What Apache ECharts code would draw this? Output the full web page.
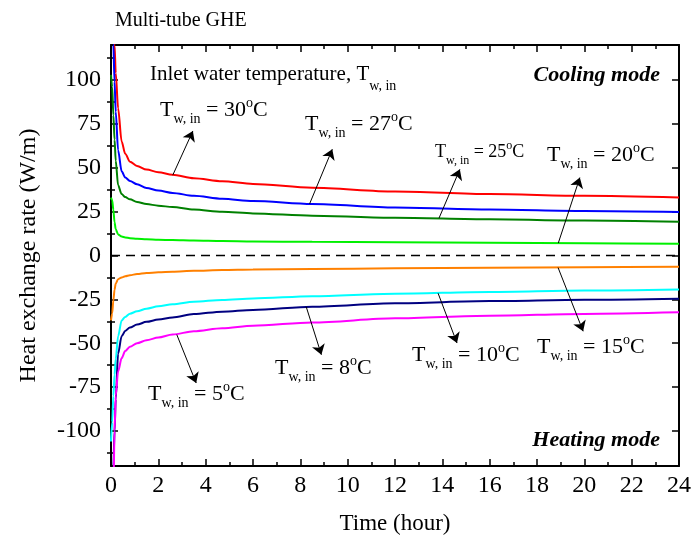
<!DOCTYPE html>
<html><head><meta charset="utf-8">
<script src="https://cdn.jsdelivr.net/npm/echarts@6/dist/echarts.min.js"></script>
<style>html,body{margin:0;padding:0;background:#fff}#c{width:696px;height:544px}</style>
</head><body><div id="c"></div>
<script>
// ---- data ----
const times = [0, 0.05, 0.1, 0.15, 0.2, 0.3, 0.45, 0.6, 0.8, 1.1, 1.5, 2, 2.6, 3.5, 4.7, 6, 8.5, 12, 16, 20, 24];
const tw30 = [260,195,150,120,104,84,65,58,53.5,51,49,47.5,46,44,42.3,40.8,38.6,36.5,35,34,33];
const tw27 = [220,160,120,99,82,60,48,44.5,42.5,40.6,38.5,37,35.7,34,32.3,31,29.3,27.3,26.2,25.4,24.8];
const tw25 = [103,96,80,66,54,40,35,33.3,32,30.5,29.3,28.4,27.6,26.2,24.9,24,22.7,21.5,20.6,19.9,19.2];
const tw20 = [33,31.5,26,19,15,12,10.8,10.3,9.9,9.5,9.2,9,8.8,8.5,8.2,8,7.8,7.6,7.3,7,6.7];
const tw15 = [-37,-33,-25.5,-19.5,-16,-13.5,-12.5,-11.8,-11.2,-10.6,-10,-9.6,-9.2,-8.7,-8.3,-8,-7.7,-7.3,-7,-6.7,-6.4];
const tw10 = [-106,-95,-80,-68,-59,-46,-37,-35,-33.2,-31.8,-30.3,-29,-27.8,-26.3,-25.3,-24.5,-23.2,-21.8,-20.8,-20,-19.4];
const tw8  = [-170,-145,-120,-100,-82,-56,-46,-43,-41,-39.4,-37.8,-36.5,-35.3,-33.4,-32,-31,-29.2,-27.2,-26,-25.2,-24.6];
const tw5  = [-220,-175,-135,-100,-80,-66,-58.5,-54.5,-52,-50,-48.3,-46.7,-45,-43.2,-41.5,-40,-38.2,-35.8,-34.3,-33.3,-32.4];
const tempLabels = ['30','27','25','20','15','10','8','5'];
const yLabelValues = [-100,-75,-50,-25,0,25,50,75,100];
const yMinorValues = [-112.5,-87.5,-62.5,-37.5,-12.5,12.5,37.5,62.5,87.5,112.5];
// arrow annotations in data units: [tFrom, vFrom, tTo, vTo]
const arrows = [
  [2.61,45.8,3.46,71],
  [8.39,29.4,9.35,60.6],
  [13.86,21.3,14.74,49.1],
  [18.9,7.1,19.81,44.4],
  [18.89,-6.9,19.95,-43.2],
  [13.82,-21.5,14.62,-49.9],
  [8.25,-29.3,8.89,-56.6],
  [2.78,-45.1,3.6,-72.7]
];

// ---- rendering ----
const FONT = '"Liberation Serif", "Times New Roman", serif';
const seriesVals = [tw30, tw27, tw25, tw20, tw15, tw10, tw8, tw5];
const colors = ['#ff0000','#0000ff','#008000','#00f000','#ff8000','#00ffff','#000080','#ff00ff'];

const series = seriesVals.map((vals, i) => ({
  type: 'line',
  name: 'Tw,in = ' + tempLabels[i] + '°C',
  data: times.map((t, k) => [t, vals[k]]),
  showSymbol: false, symbol: 'none',
  smooth: 0.3, smoothMonotone: 'x',
  clip: true, silent: true, animation: false,
  lineStyle: { color: colors[i], width: 2 },
  itemStyle: { color: colors[i] },
  z: 3,
  markLine: {
    silent: true, animation: false,
    symbol: ['none', 'arrow'], symbolSize: 10,
    lineStyle: { color: '#000', width: 1, type: 'solid' },
    label: { show: false },
    data: [[{ coord: [arrows[i][0], arrows[i][1]] }, { coord: [arrows[i][2], arrows[i][3]] }]]
  }
}));
series.push({
  type: 'line', data: [[0, 0], [24, 0]], showSymbol: false, symbol: 'none', silent: true, animation: false,
  lineStyle: { color: '#000', width: 1.5, type: [9, 6] }, z: 2
});

const PAD = 3;
function richFor(F, s, p) {
  return {
    m: { fontSize: F, lineHeight: F, fontFamily: FONT, color: '#000', verticalAlign: 'top', padding: [PAD, 0, 0, 0] },
    s: { fontSize: s, lineHeight: s, fontFamily: FONT, color: '#000', verticalAlign: 'top', padding: [p + PAD, 0, 0, 0] },
    o: { fontSize: s, lineHeight: s, fontFamily: FONT, color: '#000', verticalAlign: 'top' }
  };
}
function twLabel(val) { return '{m|T}{s|w, in}{m| = ' + val + '}{o|o}{m|C}'; }
function annot(x, yc, val, F, s) {
  const p = Math.round(F / 2 - s / 2 + 9);
  return { type: 'text', x: x, y: yc - F / 2 - PAD, silent: true, z: 10,
    style: { text: twLabel(val), rich: richFor(F, s, p), textVerticalAlign: 'top', textAlign: 'left' } };
}

const graphics = [
  { type: 'text', x: 150, y: 74 - 10.5 - PAD, silent: true, z: 10,
    style: { text: '{m|Inlet water temperature, T}{s|w, in}', rich: richFor(21, 14, 16), textVerticalAlign: 'top' } },
  annot(160, 110, tempLabels[0], 22, 14),
  annot(305, 124, tempLabels[1], 22, 14),
  annot(435, 152, tempLabels[2], 18, 12),
  annot(547, 155, tempLabels[3], 22, 14),
  annot(537, 347, tempLabels[4], 22, 14),
  annot(412, 355, tempLabels[5], 22, 14),
  annot(275, 368, tempLabels[6], 22, 14),
  annot(148, 394, tempLabels[7], 22, 14),
  { type: 'text', x: 660, y: 75, silent: true, z: 10,
    style: { text: 'Cooling mode', textAlign: 'right', textVerticalAlign: 'middle', fill: '#000',
      fontFamily: FONT, fontSize: 22, fontWeight: 'bold', fontStyle: 'italic' } },
  { type: 'text', x: 660, y: 440, silent: true, z: 10,
    style: { text: 'Heating mode', textAlign: 'right', textVerticalAlign: 'middle', fill: '#000',
      fontFamily: FONT, fontSize: 22, fontWeight: 'bold', fontStyle: 'italic' } }
];

const axLine = { show: true, onZero: false, lineStyle: { color: '#000', width: 2 } };
const chart = echarts.init(document.getElementById('c'), null, { renderer: 'canvas' });
chart.setOption({
  animation: false,
  backgroundColor: '#fff',
  title: { text: 'Multi-tube GHE', left: 110, top: 6,
    textStyle: { fontFamily: FONT, fontSize: 20, fontWeight: 'normal', color: '#000' } },
  grid: { left: 111, right: 17, top: 45, bottom: 78, containLabel: false, outerBoundsMode: 'none' },
  xAxis: [
    { type: 'value', position: 'bottom', min: 0, max: 24, interval: 2,
      name: 'Time (hour)', nameLocation: 'middle', nameGap: 46,
      nameTextStyle: { fontFamily: FONT, fontSize: 23, color: '#000' },
      axisLine: axLine,
      axisTick: { show: true, inside: true, length: 7, lineStyle: { color: '#000', width: 1.5 } },
      minorTick: { show: true, splitNumber: 2, length: 4, lineStyle: { color: '#000', width: 1.5 } },
      axisLabel: { fontFamily: FONT, fontSize: 24, color: '#000', margin: 8 },
      splitLine: { show: false }, minorSplitLine: { show: false } },
    { type: 'value', position: 'top', min: 0, max: 24, interval: 2,
      axisLine: axLine,
      axisTick: { show: true, inside: true, length: 7, lineStyle: { color: '#000', width: 1.5 } },
      minorTick: { show: true, splitNumber: 2, length: 4, lineStyle: { color: '#000', width: 1.5 } },
      axisLabel: { show: false }, splitLine: { show: false } }
  ],
  yAxis: [
    { type: 'value', position: 'left', min: -120, max: 120,
      name: 'Heat exchange rate (W/m)', nameLocation: 'middle', nameGap: 70,
      nameTextStyle: { fontFamily: FONT, fontSize: 24, color: '#000' },
      axisLine: axLine,
      axisTick: { show: true, inside: true, length: 7, customValues: yLabelValues, lineStyle: { color: '#000', width: 1.5 } },
      axisLabel: { fontFamily: FONT, fontSize: 24, color: '#000', margin: 10, customValues: yLabelValues },
      splitLine: { show: false } },
    { type: 'value', position: 'right', min: -120, max: 120,
      axisLine: axLine,
      axisTick: { show: true, inside: true, length: 7, customValues: yLabelValues, lineStyle: { color: '#000', width: 1.5 } },
      axisLabel: { show: false }, splitLine: { show: false } },
    { type: 'value', position: 'left', min: -120, max: 120,
      axisLine: { show: false },
      axisTick: { show: true, inside: true, length: 4, customValues: yMinorValues, lineStyle: { color: '#000', width: 1.5 } },
      axisLabel: { show: false }, splitLine: { show: false } },
    { type: 'value', position: 'right', min: -120, max: 120,
      axisLine: { show: false },
      axisTick: { show: true, inside: true, length: 4, customValues: yMinorValues, lineStyle: { color: '#000', width: 1.5 } },
      axisLabel: { show: false }, splitLine: { show: false } }
  ],
  series: series,
  graphic: graphics
});
</script></body></html>
